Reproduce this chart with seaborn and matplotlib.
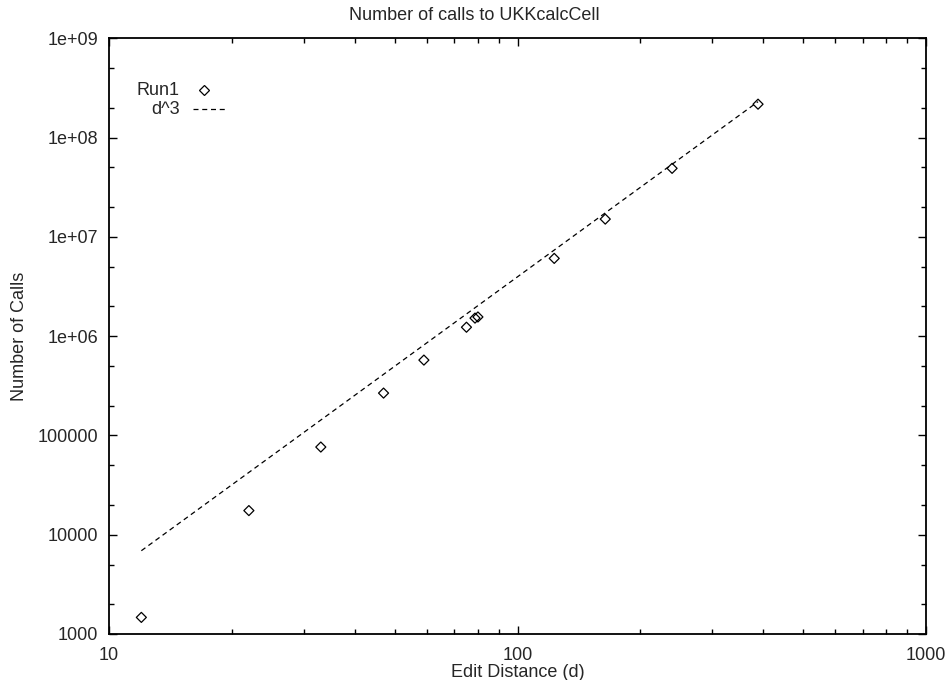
import matplotlib
matplotlib.use("Agg")
import matplotlib.pyplot as plt
import seaborn as sns
import pandas as pd
from matplotlib.ticker import LogLocator, NullFormatter
from matplotlib.lines import Line2D

# Data
edit_distance = [12, 22, 33, 47, 59, 75, 78.7, 80, 123, 164, 239, 388]
num_calls = [1470, 17500, 76400, 267000, 574000, 1.23e6, 1.52e6, 1.56e6,
             6.07e6, 1.51e7, 4.9e7, 2.17e8]
line_d = [12, 388]
line_calls = [6900, 2.3e8]

x_ticks = [10, 100, 1000]
x_labels = ["10", "100", "1000"]
y_ticks = [1e3, 1e4, 1e5, 1e6, 1e7, 1e8, 1e9]
y_labels = ["1000", "10000", "100000", "1e+06", "1e+07", "1e+08", "1e+09"]

sns.set_style("ticks")
plt.rcParams['font.family'] = ['Liberation Sans', 'DejaVu Sans']
plt.rcParams['font.size'] = 13

fig = plt.figure(figsize=(9.48, 6.8), dpi=100)
ax = fig.add_axes([109/948, 1-634/680, 817/948, (634-38.3)/680])

df_pts = pd.DataFrame({"d": edit_distance, "calls": num_calls})
df_line = pd.DataFrame({"d": line_d, "calls": line_calls})

sns.lineplot(data=df_line, x="d", y="calls", ax=ax, color="black",
             linewidth=0.9, linestyle=(0, (4, 3)), zorder=2)
sns.scatterplot(data=df_pts, x="d", y="calls", ax=ax, marker="D", s=26,
                facecolor="none", edgecolor="black", linewidth=0.9, zorder=3)

ax.set_xscale("log")
ax.set_yscale("log")
ax.set_xlim(10, 1000)
ax.set_ylim(1e3, 1e9)
ax.set_xticks(x_ticks, x_labels)
ax.set_yticks(y_ticks, y_labels)
ax.xaxis.set_minor_locator(LogLocator(base=10, subs=range(2, 10)))
ax.yaxis.set_minor_locator(LogLocator(base=10, subs=[2, 5]))
ax.xaxis.set_minor_formatter(NullFormatter())
ax.yaxis.set_minor_formatter(NullFormatter())
ax.tick_params(which="both", direction="in", top=True, right=True,
               color="black", width=1.0)
ax.tick_params(which="major", length=6, pad=8, labelsize=13)
ax.tick_params(axis="x", which="major", pad=9)
ax.tick_params(which="minor", length=3.5)
for s in ax.spines.values():
    s.set_visible(True)
    s.set_linewidth(1.3)
    s.set_color("black")

ax.set_xlabel("Edit Distance (d)", fontsize=13)
ax.set_ylabel("Number of Calls", fontsize=13)
ax.xaxis.set_label_coords(0.5, -0.051)
ax.yaxis.set_label_coords(-0.099, 0.5)
fig.text(0.5, 1 - 7/680, "Number of calls to UKKcalcCell", ha="center",
         va="top", fontsize=13)

# Legend (gnuplot style: right-aligned text, then sample)
ax.text(0.0869, 0.913, "Run1", ha="right", va="center", transform=ax.transAxes,
        fontsize=13)
ax.add_line(Line2D([0.116], [0.913], marker="D", markersize=5.2,
                   markerfacecolor="none", markeredgecolor="black",
                   markeredgewidth=0.9, linestyle="none",
                   transform=ax.transAxes))
ax.text(0.0869, 0.881, "d^3", ha="right", va="center", transform=ax.transAxes,
        fontsize=13)
ax.add_line(Line2D([0.103, 0.143], [0.881, 0.881], color="black",
                   linewidth=0.9, linestyle=(0, (4, 3)),
                   transform=ax.transAxes))

fig.savefig("out.png", dpi=100)
